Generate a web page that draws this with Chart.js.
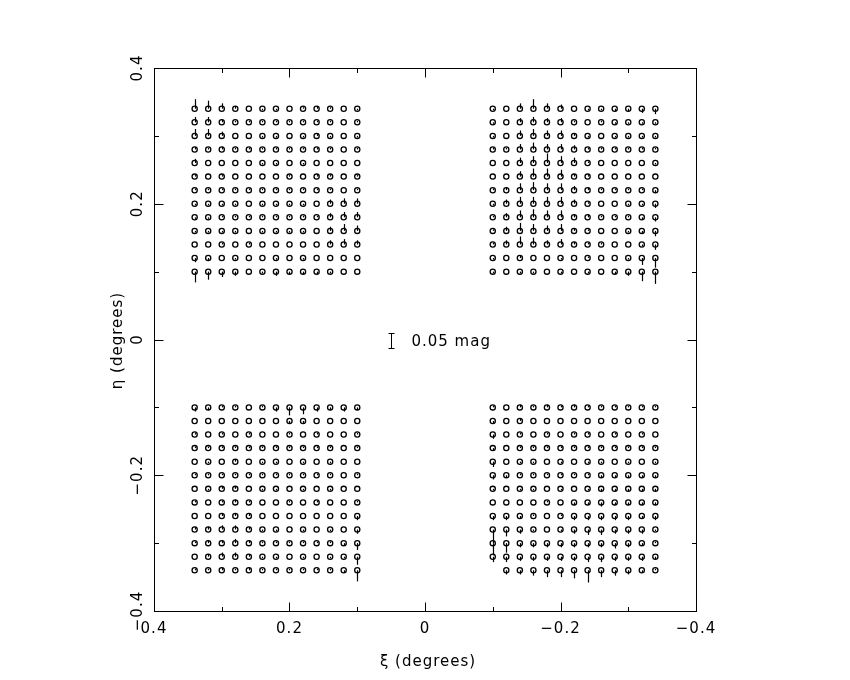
<!DOCTYPE html>
<html>
<head>
<meta charset="utf-8">
<script src="https://cdn.jsdelivr.net/npm/chart.js@4.4.1/dist/chart.umd.min.js"></script>
<style>
  html, body { margin: 0; padding: 0; background: #fff; }
  #wrap { width: 850px; height: 680px; position: relative; }
</style>
</head>
<body>
<div id="wrap"><canvas id="myChart"></canvas></div>
<script>
// grid positions (degrees)
var xiLeft  = [0.34, 0.32, 0.30, 0.28, 0.26, 0.24, 0.22, 0.20, 0.18, 0.16, 0.14, 0.12, 0.10];
var xiRight = [-0.10, -0.12, -0.14, -0.16, -0.18, -0.20, -0.22, -0.24, -0.26, -0.28, -0.30, -0.32, -0.34];
var etaTop    = [0.34, 0.32, 0.30, 0.28, 0.26, 0.24, 0.22, 0.20, 0.18, 0.16, 0.14, 0.12, 0.10];
var etaBottom = [-0.10, -0.12, -0.14, -0.16, -0.18, -0.20, -0.22, -0.24, -0.26, -0.28, -0.30, -0.32, -0.34];

// residuals in millimag, rows top->bottom, columns left->right
var residTL = [
  [32, 27, 18, 9, 0, -5, -5, 0, 5, 9, 5, 0, -5],
  [18, 18, 9, 5, 5, 5, 5, 5, 5, 5, 5, 0, 5],
  [23, 23, 14, 0, 0, -5, -5, 0, -5, 9, -5, 0, -5],
  [9, 5, 9, 5, 5, 5, 5, 5, 5, 5, 5, 0, 5],
  [14, 0, 0, 0, 0, -5, -5, 0, -5, 0, 0, 0, 0],
  [5, 0, 5, 0, 0, 0, 0, 5, 0, 5, 5, 0, 5],
  [5, 5, 5, 5, 5, 5, 5, 5, 5, 5, 5, 0, 5],
  [-5, -5, -5, -5, 0, -5, -5, -5, -5, 0, 14, 18, 18],
  [-5, -5, 5, 5, 5, 5, 5, 5, 5, 5, 14, 18, 18],
  [-5, -5, -5, -5, 0, -5, -5, -5, -5, 0, 14, 23, 18],
  [0, 0, 5, 0, 5, 0, 0, 0, 0, 0, 14, 18, 14],
  [-14, -9, 0, -5, 0, 0, -5, 0, -5, 0, 0, 0, 0],
  [-36, -27, -18, -14, 0, -5, -14, -9, -9, -9, -5, 0, 0]
];
var residTR = [
  [-5, 0, 18, 32, 18, 14, 0, -5, -5, -9, -9, -14, -18],
  [-5, 0, 14, 18, 14, 14, 5, 0, 5, -5, -5, -5, -5],
  [-5, 0, 18, 23, 18, 18, 9, -5, 0, -5, -5, -5, -5],
  [5, 5, 18, 23, 18, 18, 14, 5, 5, 5, 5, 5, 5],
  [0, 0, 18, 23, 32, 23, 18, 5, 0, 0, 0, 0, -5],
  [0, 0, 18, 27, 27, 23, 9, 5, 0, 0, 0, 0, 0],
  [5, 9, 23, 27, 23, 23, 14, 9, 5, 5, 5, 5, -9],
  [-5, 14, 23, 23, 23, 23, 14, 5, 0, 0, -5, -5, -14],
  [5, 14, 23, 27, 23, 23, 9, 9, 5, 5, 5, -9, -14],
  [5, 14, 27, 23, 18, 23, 9, 5, 0, 0, -5, -9, -18],
  [5, 14, 27, 23, 14, 18, 9, 5, 5, 0, 0, -5, -18],
  [-5, 0, 9, 0, 0, -5, 0, 5, 0, 0, -5, -23, -32],
  [-5, 0, -5, -5, 0, -5, 0, -5, 0, -9, -14, -32, -41]
];
var residBL = [
  [-14, -9, 5, 5, 0, 5, -14, -27, -23, -14, -9, -14, -9],
  [0, 0, 0, 0, 0, 0, 0, -9, -9, 0, 0, 0, 0],
  [5, 0, 5, 0, 5, 0, 0, 5, 0, 5, 0, 0, 5],
  [5, 5, 5, 5, 5, 5, 5, 5, 5, 5, 5, 0, 5],
  [0, -5, 0, 9, 0, -5, -5, 0, -5, 0, -5, 0, 0],
  [5, 5, 5, 5, 5, 5, 5, 5, 5, 5, 5, 0, 5],
  [0, -5, 9, 9, 0, -5, -5, 0, -5, 0, -5, 0, 0],
  [5, 0, 5, 9, 5, 0, 0, 5, 0, 5, 0, 0, 5],
  [0, 0, 9, 9, 9, 0, 0, 0, 0, 0, 0, 0, -14],
  [9, 9, 14, 14, 9, -5, -5, 0, -5, 0, -5, 0, -14],
  [5, 9, 9, 14, 9, 5, 5, 5, 5, 5, 5, -9, -23],
  [0, 9, 14, 14, 9, -5, -5, 0, -5, 0, -5, -5, -27],
  [5, 5, 9, 5, 9, 5, 5, 5, 5, 5, 5, -9, -37]
];
var residBR = [
  [5, 0, 9, 5, 9, 5, 9, 5, 5, 5, 5, 5, 5],
  [-9, 0, 9, 0, 0, 0, 0, 0, 0, 0, 0, 0, 0],
  [-14, 0, 5, 0, 5, 0, 5, 5, 0, 5, 0, 5, 0],
  [-9, 0, 5, 5, 5, 5, 5, 5, 5, 5, 5, 5, 5],
  [-18, 0, -5, -5, 0, -5, 0, -5, -5, 0, -5, 0, -5],
  [-14, -9, 5, 5, 5, 5, 5, 5, -9, -9, -9, -9, -9],
  [-5, 0, -5, -5, 0, -5, 0, -5, -9, -9, -9, -9, -9],
  [0, 0, 0, 0, 5, 0, -9, -9, -14, -9, -9, -9, -9],
  [-14, -14, -9, 5, 0, 5, -14, -14, -14, -14, -14, -9, -14],
  [-45, -23, -14, -5, 0, -5, -14, -18, -18, -14, -14, -14, -5],
  [-41, -32, -14, -14, -14, -14, -14, -14, -14, -18, -14, -9, 5],
  [-18, -18, -14, -14, -14, -14, -14, -18, -18, -14, -14, -14, -9],
  [null, -14, -14, -18, -23, -23, -27, -41, -23, -18, -14, -9, 5]
];

// axis ticks
var majorTicks = [0.4, 0.2, 0, -0.2, -0.4];
var tickLabels = ["0.4", "0.2", "0", "\u22120.2", "\u22120.4"];
var minorTicks = [0.3, 0.1, -0.1, -0.3];

// scale bar: 0.05 mag, drawn at (0.05, 0)
var barMag = 0.05;
var barPos = [0.05, -0.002];
var barLabel = "0.05 mag";
var degPerMag = 0.44; // stick length in degrees for 1 mag

function gridPoints(xs, ys, res) {
  var pts = [];
  for (var r = 0; r < ys.length; r++) {
    for (var c = 0; c < xs.length; c++) {
      if (res[r][c] === null) continue;
      pts.push({x: xs[c], y: ys[r], res: res[r][c] / 1000});
    }
  }
  return pts;
}

function ds(pts) {
  return {
    data: pts,
    pointStyle: 'circle',
    pointRadius: 2.6,
    pointBorderWidth: 1.3,
    pointBorderColor: '#000',
    pointBackgroundColor: 'rgba(0,0,0,0)',
    showLine: false
  };
}

var FONT = '15px "DejaVu Sans"';

// vertical sticks = magnitude residuals
const sticks = {
  id: 'sticks',
  afterDatasetsDraw(chart) {
    const ctx = chart.ctx, xs = chart.scales.x, ys = chart.scales.y;
    ctx.save();
    ctx.strokeStyle = '#000';
    ctx.lineWidth = 1.2;
    chart.data.datasets.forEach(function(d) {
      d.data.forEach(function(p) {
        var px = Math.round(xs.getPixelForValue(p.x)) + 0.5;
        var y0 = ys.getPixelForValue(p.y);
        var y1 = ys.getPixelForValue(p.y + p.res * degPerMag);
        ctx.beginPath();
        ctx.moveTo(px, y0);
        ctx.lineTo(px, y1);
        ctx.stroke();
      });
    });
    // scale bar
    ctx.lineWidth = 1;
    var bx = Math.round(xs.getPixelForValue(barPos[0])) + 0.5;
    var half = barMag * degPerMag / 2;
    var t = Math.round(ys.getPixelForValue(barPos[1] + half)) + 0.5;
    var b = Math.round(ys.getPixelForValue(barPos[1] - half)) + 0.5;
    ctx.beginPath();
    ctx.moveTo(bx, t); ctx.lineTo(bx, b);
    ctx.moveTo(bx - 3, t); ctx.lineTo(bx + 3, t);
    ctx.moveTo(bx - 3, b); ctx.lineTo(bx + 3, b);
    ctx.stroke();
    ctx.fillStyle = '#000';
    ctx.font = FONT;
    ctx.letterSpacing = '1px';
    ctx.textAlign = 'left';
    ctx.textBaseline = 'middle';
    ctx.fillText(barLabel, xs.getPixelForValue(0.02), ys.getPixelForValue(barPos[1]) + 1);
    ctx.restore();
  }
};

// PGPLOT-like box with inward ticks on all four sides
const frame = {
  id: 'frame',
  afterDraw(chart) {
    const ctx = chart.ctx, a = chart.chartArea, xs = chart.scales.x, ys = chart.scales.y;
    ctx.save();
    ctx.strokeStyle = '#000';
    ctx.lineWidth = 1;
    var L = Math.round(a.left) + 0.5, R = Math.round(a.right) + 0.5;
    var T = Math.round(a.top) + 0.5, B = Math.round(a.bottom) + 0.5;
    ctx.strokeRect(L, T, R - L, B - T);
    function ticks(vals, len) {
      vals.forEach(function(v) {
        var px = Math.round(xs.getPixelForValue(v)) + 0.5;
        var py = Math.round(ys.getPixelForValue(v)) + 0.5;
        ctx.beginPath();
        ctx.moveTo(px, B); ctx.lineTo(px, B - len);
        ctx.moveTo(px, T); ctx.lineTo(px, T + len);
        ctx.moveTo(L, py); ctx.lineTo(L + len, py);
        ctx.moveTo(R, py); ctx.lineTo(R - len, py);
        ctx.stroke();
      });
    }
    ticks(majorTicks, 9);
    ticks(minorTicks, 4.5);

    ctx.fillStyle = '#000';
    ctx.font = FONT;
    ctx.letterSpacing = '1px';
    ctx.textAlign = 'center';
    ctx.textBaseline = 'alphabetic';
    majorTicks.forEach(function(v, i) {
      ctx.fillText(tickLabels[i], xs.getPixelForValue(v), a.bottom + 22);
    });
    majorTicks.forEach(function(v, i) {
      ctx.save();
      ctx.translate(a.left - 12, ys.getPixelForValue(v));
      ctx.rotate(-Math.PI / 2);
      ctx.fillText(tickLabels[i], 0, 0);
      ctx.restore();
    });
    // axis titles
    ctx.fillText("\u03BE (degrees)", (a.left + a.right) / 2 + 3, a.bottom + 55);
    ctx.save();
    ctx.translate(a.left - 32, (a.top + a.bottom) / 2 + 1);
    ctx.rotate(-Math.PI / 2);
    ctx.fillText("\u03B7 (degrees)", 0, 0);
    ctx.restore();
    ctx.restore();
  }
};

const config = {
  type: 'scatter',
  data: {
    datasets: [
      ds(gridPoints(xiLeft, etaTop, residTL)),
      ds(gridPoints(xiRight, etaTop, residTR)),
      ds(gridPoints(xiLeft, etaBottom, residBL)),
      ds(gridPoints(xiRight, etaBottom, residBR))
    ]
  },
  options: {
    responsive: true,
    maintainAspectRatio: false,
    animation: false,
    layout: { padding: { left: 154, right: 154, top: 68, bottom: 69 } },
    plugins: { legend: { display: false }, tooltip: { enabled: false } },
    scales: {
      x: { type: 'linear', min: -0.4, max: 0.4, reverse: true, display: false },
      y: { type: 'linear', min: -0.4, max: 0.4, display: false }
    }
  },
  plugins: [sticks, frame]
};

const myChart = new Chart(document.getElementById('myChart'), config);
</script>
</body>
</html>
